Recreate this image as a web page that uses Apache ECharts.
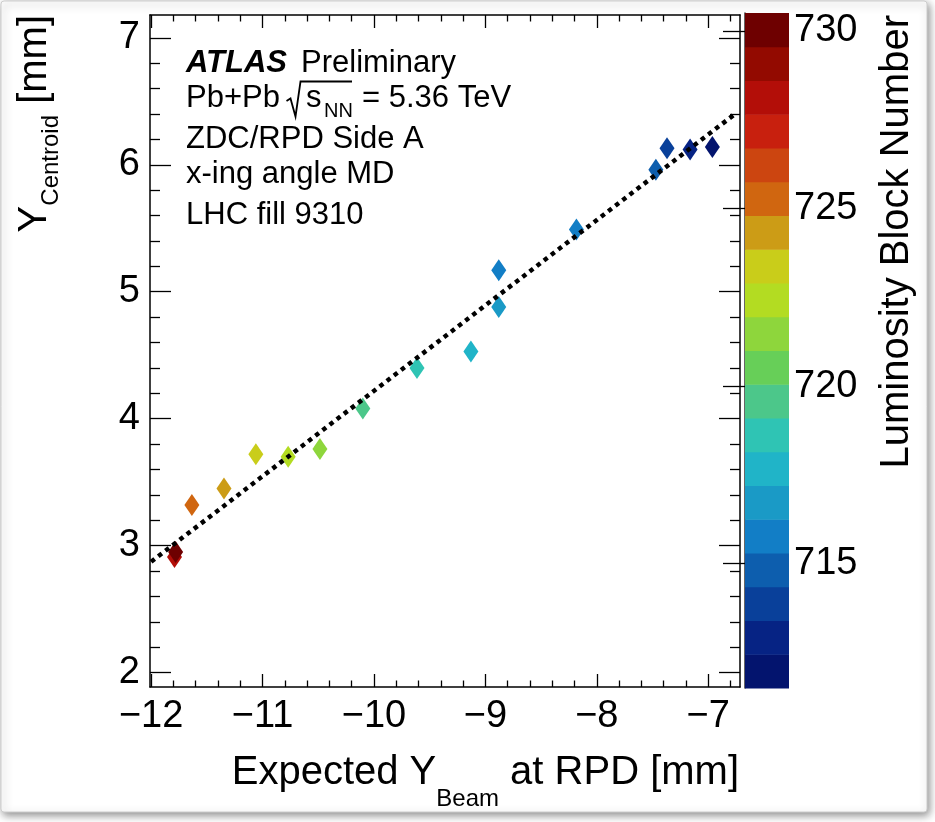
<!DOCTYPE html>
<html><head><meta charset="utf-8">
<script src="https://cdn.jsdelivr.net/npm/echarts@6/dist/echarts.min.js"></script>
<style>html,body{margin:0;padding:0;background:#fff}#c{width:935px;height:822px}</style>
</head><body><div id="c"></div>
<script>
// ---------------- data ----------------
const expectedY = [-6.963, -7.163, -7.37, -7.47, -8.183, -8.88, -8.88, -9.13, -9.614, -10.10, -10.485, -10.77, -11.06, -11.346, -11.634, -11.79, -11.78];
const centroidY = [6.14, 6.12, 6.13, 5.96, 5.49, 5.17, 4.88, 4.53, 4.40, 4.08, 3.76, 3.70, 3.72, 3.45, 3.32, 2.91, 2.95];
const lumiBlock = [712, 713, 714, 715, 716, 716, 717, 718, 719, 720, 721, 722, 723, 724, 725, 728, 730];
const fitX = [-12.0, -6.76];
const fitY = [2.873, 6.40];
const xTickLabels = [-12, -11, -10, -9, -8, -7];
const yTickLabels = [2, 3, 4, 5, 6, 7];
const zTickLabels = [715, 720, 725, 730];
const zRange = [711.5, 730.5];
// palette (bottom -> top)
const paletteColors = ['#03146e','#062384','#09409a','#0d5eae','#127ec6','#1a9ac6','#20b4c8','#2fc4b4','#4cc78a','#67cf58','#8ed63c','#b3dc22','#c9cd1a','#cc9c16','#d06610','#cc4510','#c8200e','#b30e08','#930a00','#6e0000'];

// ---------------- layout ----------------
const FONT = '"Liberation Sans", Arial, Helvetica, sans-serif';
const xMin = -12.01, xMax = -6.715, yMin = 1.886, yMax = 7.18;
const zMin = zRange[0], zMax = zRange[1];

function minorVals(lo, hi, step) {
  const out = [];
  const n0 = Math.ceil(lo / step - 1e-9), n1 = Math.floor(hi / step + 1e-9);
  for (let n = n0; n <= n1; n++) {
    const v = +(n * step).toFixed(6);
    if (Math.abs(v - Math.round(v)) > 1e-6) out.push(v);
  }
  return out;
}
const xMinor = minorVals(xMin, xMax, 0.2);
const yMinor = minorVals(yMin, yMax, 0.2);

function colorFor(z) {
  const n = paletteColors.length;
  let b = Math.floor((z - zMin) / (zMax - zMin) * n + 1e-9);
  b = Math.max(0, Math.min(n - 1, b));
  return paletteColors[b];
}

const mctx = document.createElement('canvas').getContext('2d');
function tw(text, size, weight, style) {
  mctx.font = (style || 'normal') + ' ' + (weight || 'normal') + ' ' + size + 'px ' + FONT;
  return mctx.measureText(text).width;
}
const minus = v => (v < 0 ? '\u2212' : '') + Math.abs(v);

function axis(kind, pos, vals, len, opts) {
  const isX = kind === 'x';
  const o = {
    type: 'value', gridIndex: 0, position: pos,
    min: isX ? xMin : yMin, max: isX ? xMax : yMax,
    splitLine: { show: false },
    axisLine: { show: !!opts.line, onZero: false, lineStyle: { color: '#000', width: 1.5 } },
    axisTick: { show: true, inside: true, length: len, customValues: vals, lineStyle: { color: '#000', width: 1.3 } },
    axisLabel: { show: false },
    minorTick: { show: false }
  };
  if (opts.labels) {
    o.axisLabel = {
      show: true, customValues: opts.labels, fontFamily: FONT, fontSize: 38, color: '#000',
      margin: isX ? 11 : 10, formatter: minus
    };
  }
  return o;
}

const xAxes = [
  axis('x', 'bottom', xTickLabels, 13, { line: true, labels: xTickLabels }),
  axis('x', 'bottom', xMinor, 6.5, {}),
  axis('x', 'top', xTickLabels, 13, { line: true }),
  axis('x', 'top', xMinor, 6.5, {}),
  { type: 'value', gridIndex: 1, min: 0, max: 1, show: false }
];
const yAxes = [
  axis('y', 'left', yTickLabels, 21, { line: true, labels: yTickLabels }),
  axis('y', 'left', yMinor, 10, {}),
  axis('y', 'right', yTickLabels, 21, { line: true }),
  axis('y', 'right', yMinor, 10, {}),
  {
    type: 'value', gridIndex: 1, position: 'right', min: zMin, max: zMax,
    splitLine: { show: false },
    axisLine: { show: true, lineStyle: { color: '#333', width: 1.5 } },
    axisTick: { show: true, inside: true, length: 22, customValues: zTickLabels, lineStyle: { color: '#000', width: 1.3 } },
    axisLabel: { show: true, customValues: zTickLabels, fontFamily: FONT, fontSize: 38, color: '#000', margin: 5 }
  }
];

// ---------- graphic texts ----------
const g = [];
g.push({ type: 'rect', z: -100, silent: true,
  shape: { x: 1, y: 1, width: 926, height: 811, r: 3 },
  style: { fill: '#fff', stroke: '#cdcdcd', lineWidth: 1, shadowBlur: 8, shadowColor: 'rgba(0,0,0,0.45)', shadowOffsetX: 2, shadowOffsetY: 3 } });

function txt(x, y, text, size, extra) {
  const e = { type: 'text', x: x, y: y, z: 100, silent: true,
    style: Object.assign({ text: text, fill: '#000', font: 'normal normal ' + size + 'px ' + FONT, verticalAlign: 'middle', align: 'left' }, extra || {}) };
  return e;
}
// legend block
g.push(txt(186, 63, 'ATLAS', 31, { font: 'italic bold 31px ' + FONT }));
g.push(txt(301, 63, 'Preliminary', 31));
g.push(txt(186, 98, 'Pb+Pb', 31));
g.push({ type: 'polyline', z: 100, silent: true,
  shape: { points: [[286.5, 101], [290.5, 98.5], [295.5, 116.5], [300.5, 81.5], [352, 81.5]] },
  style: { stroke: '#000', lineWidth: 1.8, fill: null } });
g.push(txt(306, 98, 's', 31));
g.push(txt(324, 111, 'NN', 20));
g.push(txt(362, 98, '= 5.36 TeV', 31));
g.push(txt(186, 139, 'ZDC/RPD Side A', 31));
g.push(txt(186, 174, 'x-ing angle MD', 31));
g.push(txt(186, 215, 'LHC fill 9310', 31));

// x title (right aligned at 739)
(function () {
  const a = 'Expected Y', b = 'Beam', c = ' at RPD [mm]';
  const wa = tw(a, 40), wb = tw(b, 24), wc = tw(c, 40);
  const x0 = 739 - (wa + wb + wc);
  g.push(txt(x0, 773, a, 40));
  g.push(txt(x0 + wa, 799, b, 24));
  g.push(txt(x0 + wa + wb, 773, c, 40));
})();
// rotated titles
function rotTitle(endY, parts) {
  let W = 0; parts.forEach(p => W += tw(p[0], p[1]));
  const children = []; let lx = -W;
  parts.forEach(p => {
    children.push({ type: 'text', x: lx, y: p[2], silent: true,
      style: { text: p[0], fill: '#000', font: 'normal normal ' + p[1] + 'px ' + FONT, verticalAlign: 'middle', align: 'left' } });
    lx += tw(p[0], p[1]);
  });
  return { type: 'group', x: 0, y: endY, rotation: Math.PI / 2, z: 100, silent: true, children: children };
}
g.push(rotTitle(15, [['Y', 40, 35], ['Centroid', 24, 51], [' [mm]', 40, 35]]));
g.push(rotTitle(15, [['Luminosity Block Number', 40, 897]]));

const option = {
  animation: false,
  backgroundColor: 'transparent',
  grid: [
    { left: 150, top: 15, width: 590, height: 672, containLabel: false },
    { left: 745, top: 13, width: 44, height: 675, containLabel: false }
  ],
  xAxis: xAxes,
  yAxis: yAxes,
  series: [
    {
      type: 'custom', xAxisIndex: 4, yAxisIndex: 4, silent: true, z: 1,
      data: paletteColors.map((c, i) => [i]),
      renderItem: function (params, api) {
        const i = api.value(0);
        const w = (zMax - zMin) / paletteColors.length;
        const p0 = api.coord([0, zMin + i * w]);
        const p1 = api.coord([1, zMin + (i + 1) * w]);
        return { type: 'rect', shape: { x: p0[0], y: p1[1], width: p1[0] - p0[0], height: p0[1] - p1[1] + 0.6 },
          style: { fill: paletteColors[i] } };
      }
    },
    {
      type: 'scatter', xAxisIndex: 0, yAxisIndex: 0, z: 3,
      symbol: 'diamond', symbolSize: [15, 22],
      data: expectedY.map((x, i) => [x, centroidY[i], lumiBlock[i]]),
      itemStyle: { color: p => colorFor(p.value[2]), opacity: 1 }
    },
    {
      type: 'line', xAxisIndex: 0, yAxisIndex: 0, z: 5,
      data: fitX.map((x, i) => [x, fitY[i]]),
      showSymbol: false, symbol: 'none',
      lineStyle: { color: '#000', width: 4.5, type: [4.5, 4.5], cap: 'butt' }
    }
  ],
  graphic: g
};
const chart = echarts.init(document.getElementById('c'), null, { renderer: 'canvas' });
chart.setOption(option);
</script></body></html>
